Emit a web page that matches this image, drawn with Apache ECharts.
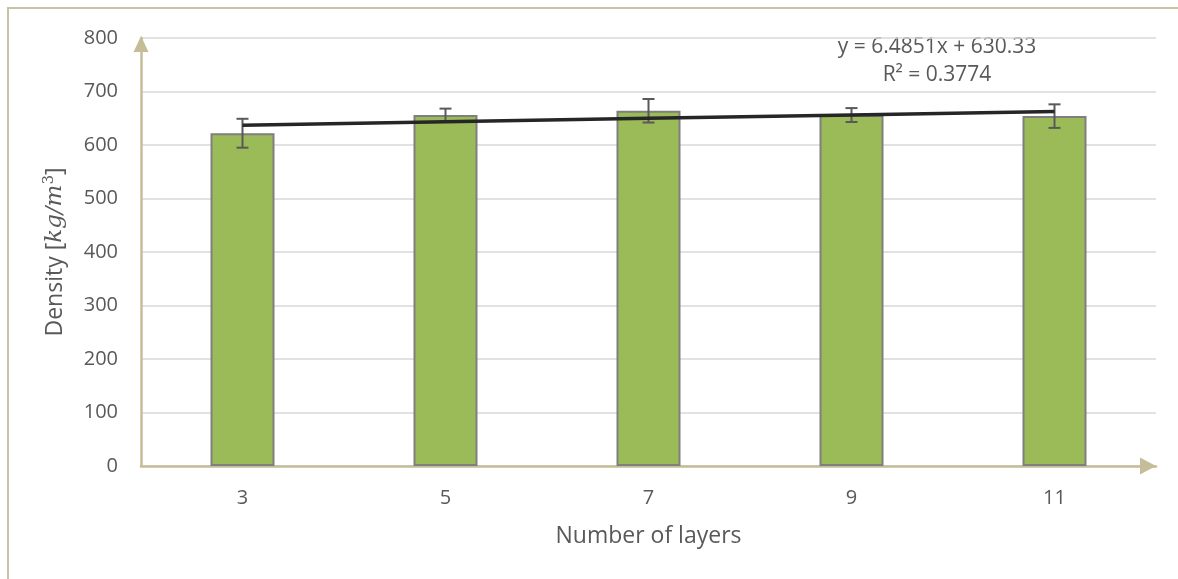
<!DOCTYPE html>
<html>
<head>
<meta charset="utf-8">
<script src="https://cdn.jsdelivr.net/npm/echarts@6/dist/echarts.min.js"></script>
<style>
  html, body { margin: 0; padding: 0; background: #ffffff; }
  #chart { width: 1178px; height: 579px; }
</style>
</head>
<body>
<div id="chart"></div>
<script>
// Mean density per layer count, with standard-deviation error bars
const layers = ['3', '5', '7', '9', '11'];
const density = [622, 656, 664, 656, 654];
const densityErr = [27, 12, 22, 13, 22];
const yTicks = [0, 100, 200, 300, 400, 500, 600, 700, 800];

// Linear trendline coefficients (x = category position 1..n)
const trendSlope = 6.4851;
const trendIntercept = 630.33;
const trendR2 = 0.3774;

const textColor = '#595959';
const font = '"Open Sans", "Noto Sans", sans-serif';
const axisColor = '#c4bd97';

const trendValues = layers.map((_, i) => +(trendSlope * (i + 1) + trendIntercept).toFixed(2));
const errData = layers.map((_, i) => [i, density[i] - densityErr[i], density[i] + densityErr[i]]);

const chart = echarts.init(document.getElementById('chart'), null, { renderer: 'canvas' });

chart.setOption({
  animation: false,
  backgroundColor: '#ffffff',
  grid: { left: 141, right: 22, top: 38, bottom: 113, containLabel: false },
  xAxis: {
    type: 'category',
    data: layers,
    name: 'Number of layers',
    nameLocation: 'middle',
    nameGap: 59,
    nameTextStyle: { color: textColor, fontSize: 23, fontFamily: font },
    axisLine: {
      show: true,
      lineStyle: { color: axisColor, width: 2.5 },
      symbol: ['none', 'triangle'],
      symbolSize: [17, 16],
      symbolOffset: [0, -8]
    },
    axisTick: { show: false },
    axisLabel: { color: textColor, fontSize: 20, fontFamily: font, margin: 22 },
    splitLine: { show: false }
  },
  yAxis: {
    type: 'value',
    min: yTicks[0],
    max: yTicks[yTicks.length - 1],
    interval: 100,
    name: '{n|Density [}{m|kg/m}{s|3}{n|]}',
    nameLocation: 'middle',
    nameGap: 72,
    nameRotate: 90,
    nameTextStyle: {
      rich: {
        n: { color: textColor, fontSize: 23, fontFamily: font },
        m: { color: textColor, fontSize: 23, fontFamily: '"DejaVu Serif", serif', fontStyle: 'italic' },
        s: { color: textColor, fontSize: 15, fontFamily: '"DejaVu Serif", serif', verticalAlign: 'top', padding: [0, 0, 12, 0] }
      }
    },
    axisLine: {
      show: true,
      lineStyle: { color: axisColor, width: 2.5 },
      symbol: ['none', 'triangle'],
      symbolSize: [15, 16],
      symbolOffset: [0, -6]
    },
    axisTick: { show: false },
    axisLabel: { color: textColor, fontSize: 20, fontFamily: font, margin: 23 },
    splitLine: { show: true, lineStyle: { color: '#d9d9d9', width: 1.5 } }
  },
  series: [
    {
      type: 'bar',
      data: density,
      barWidth: 64,
      itemStyle: { color: '#9bbb59', borderColor: '#7f7f7f', borderWidth: 2 },
      z: 2
    },
    {
      type: 'custom',
      data: errData,
      z: 4,
      renderItem: function (params, api) {
        const x = api.value(0);
        const lo = api.coord([x, api.value(1)]);
        const hi = api.coord([x, api.value(2)]);
        const half = 6;
        const style = { stroke: '#595959', lineWidth: 2 };
        return {
          type: 'group',
          children: [
            { type: 'line', shape: { x1: lo[0], y1: lo[1], x2: hi[0], y2: hi[1] }, style: style },
            { type: 'line', shape: { x1: lo[0] - half, y1: lo[1], x2: lo[0] + half, y2: lo[1] }, style: style },
            { type: 'line', shape: { x1: hi[0] - half, y1: hi[1], x2: hi[0] + half, y2: hi[1] }, style: style }
          ]
        };
      }
    },
    {
      type: 'line',
      data: trendValues,
      symbol: 'none',
      lineStyle: { color: '#262626', width: 3.5 },
      z: 5
    }
  ],
  graphic: [
    // outer chart frame
    { type: 'line', shape: { x1: 7, y1: 8, x2: 1178, y2: 8 }, style: { stroke: '#cac3a3', lineWidth: 2 } },
    { type: 'line', shape: { x1: 8, y1: 8, x2: 8, y2: 579 }, style: { stroke: '#cac3a3', lineWidth: 2 } },
    // trendline equation
    {
      type: 'text', x: 937, y: 47,
      style: {
        text: 'y = ' + trendSlope + 'x + ' + trendIntercept.toFixed(2),
        align: 'center', verticalAlign: 'middle', fill: textColor, fontSize: 21, fontFamily: font
      }
    },
    {
      type: 'text', x: 937, y: 75,
      style: {
        text: 'R² = ' + trendR2,
        align: 'center', verticalAlign: 'middle', fill: textColor, fontSize: 21, fontFamily: font
      }
    }
  ]
});
</script>
</body>
</html>
